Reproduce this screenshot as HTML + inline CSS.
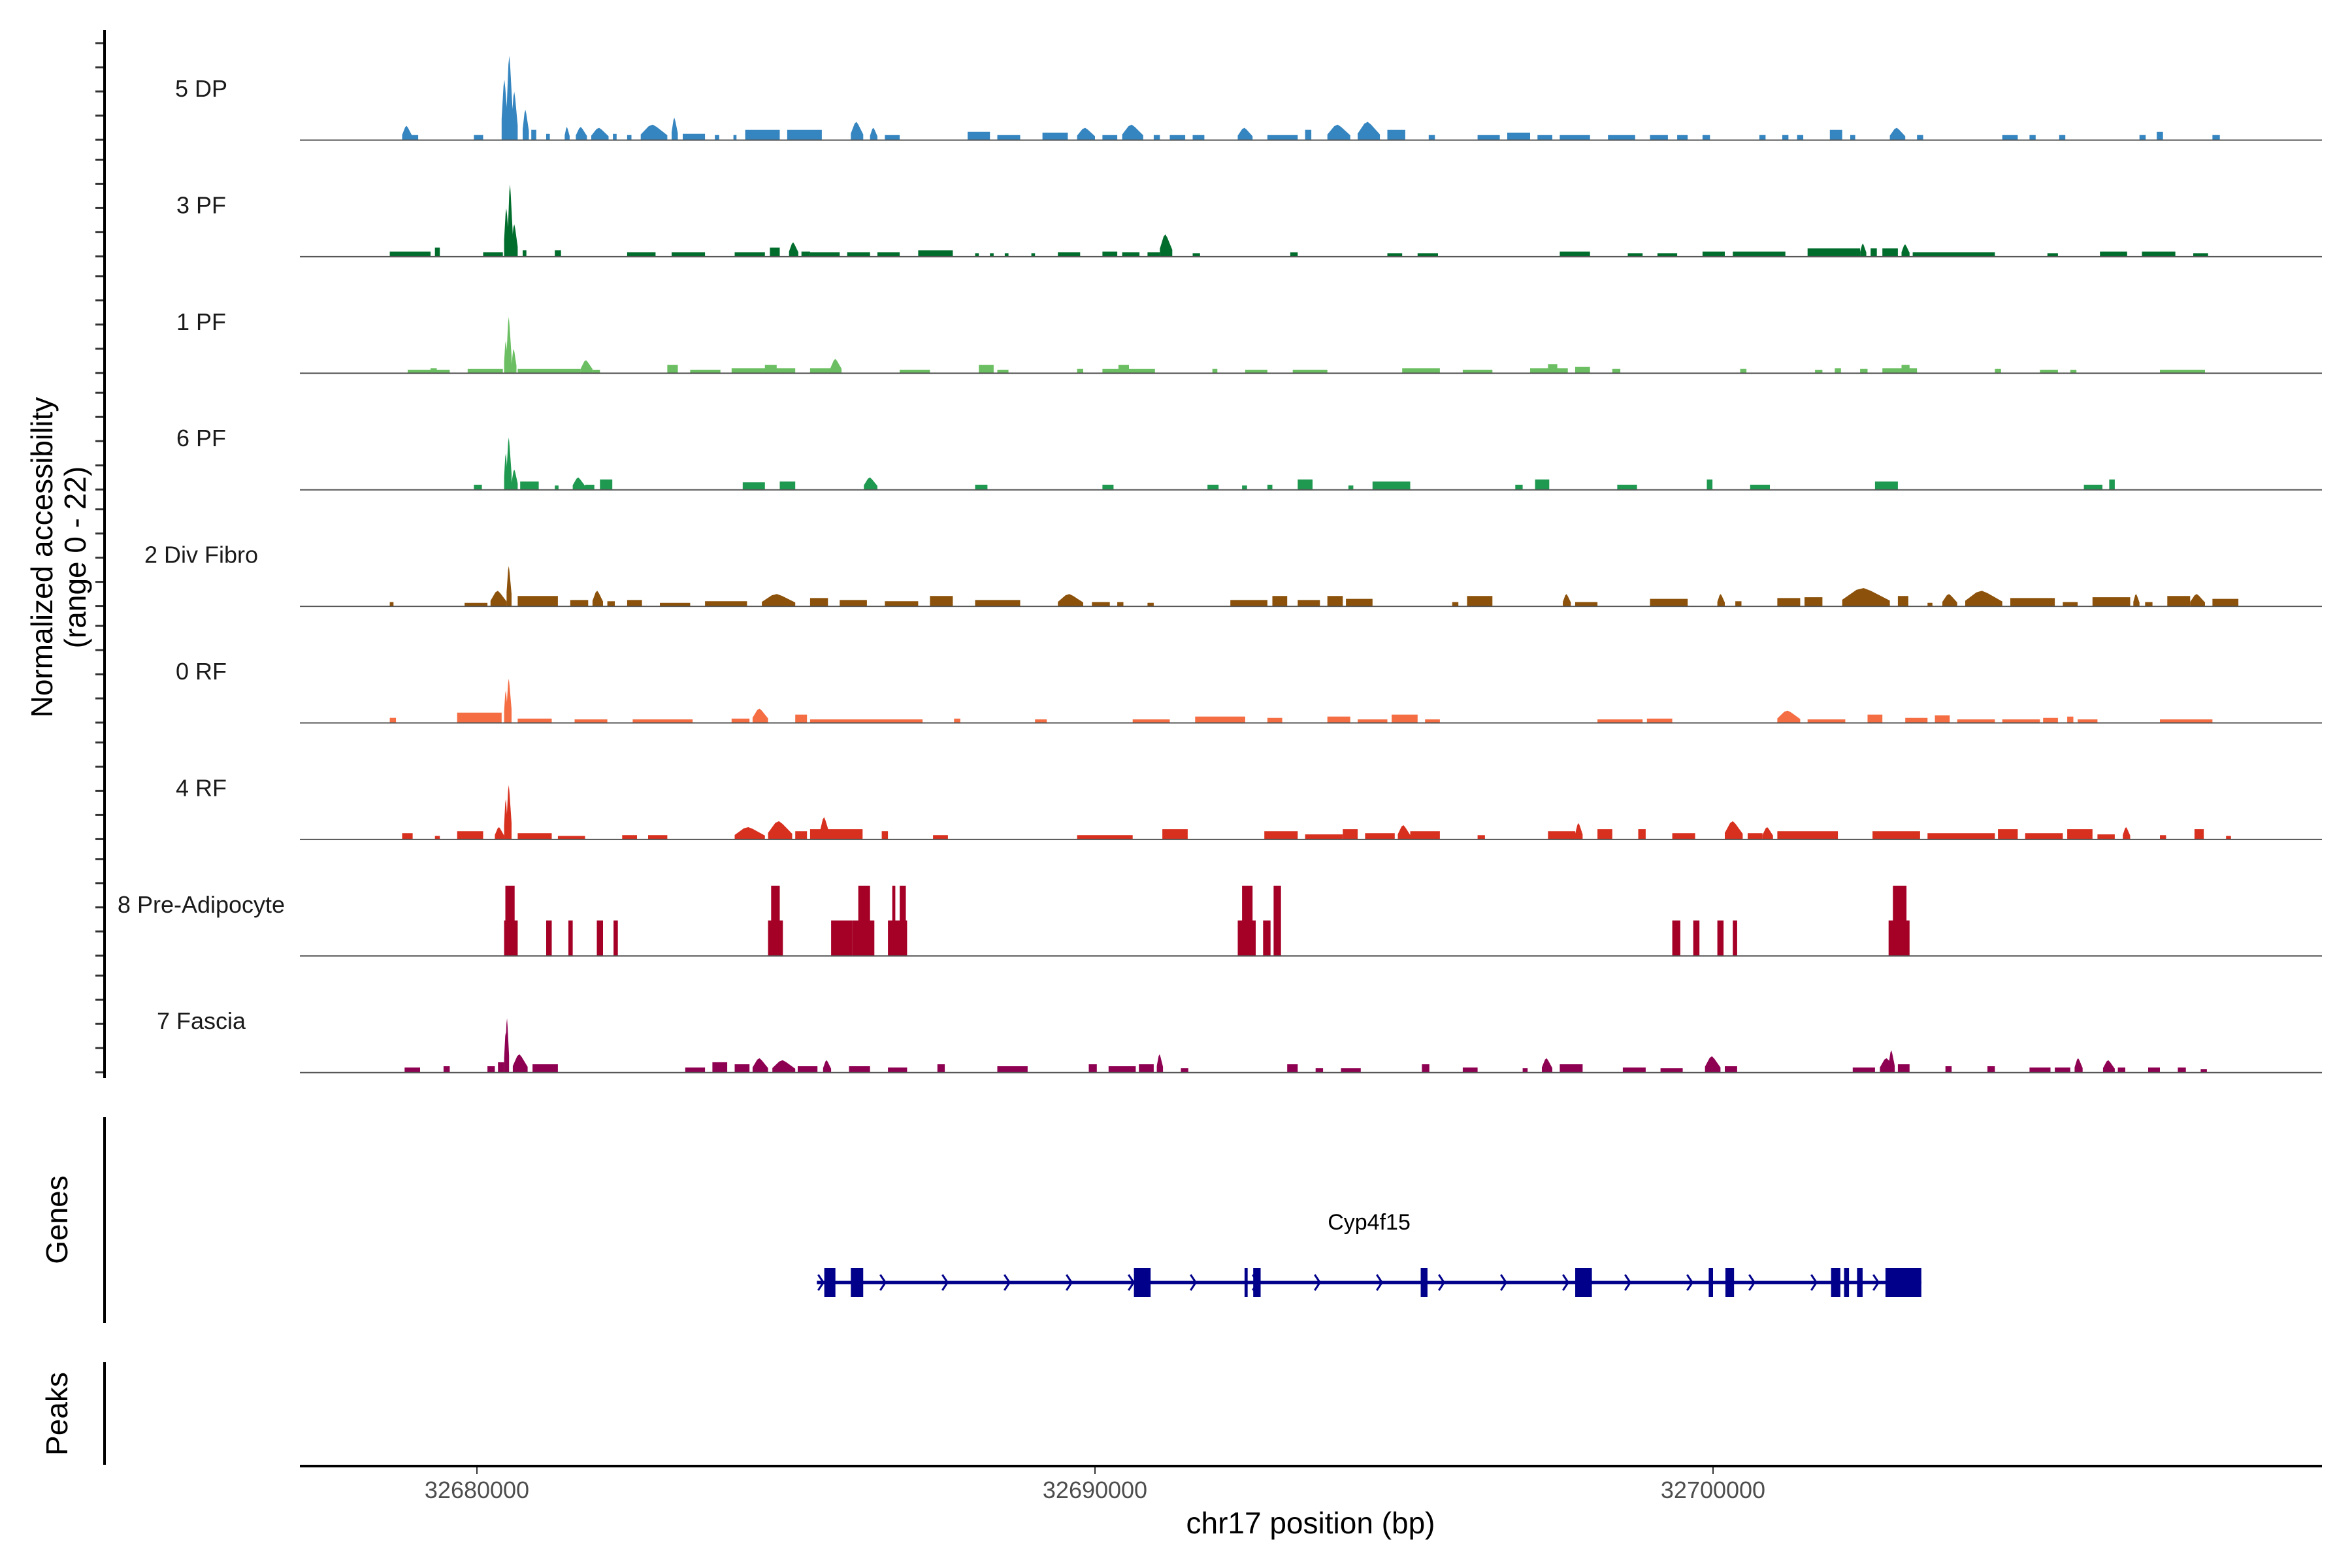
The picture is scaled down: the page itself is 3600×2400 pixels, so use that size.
<!DOCTYPE html>
<html><head><meta charset="utf-8">
<style>
html,body{margin:0;padding:0;background:#fff;}
svg{display:block;font-family:"Liberation Sans",Arial,sans-serif;}
</style></head>
<body>
<svg id="chart" width="3600" height="2400" viewBox="0 0 3600 2400" xmlns="http://www.w3.org/2000/svg">
<rect x="0" y="0" width="3600" height="2400" fill="#fff"/>
<g id="tracks"></g>
<g id="axes"></g>
<g id="genes"></g>
</svg>
<script>
// Positions in kb relative to chr17:32,680,000 ; values = normalized accessibility (0-22)
const trackNames = ["5 DP","3 PF","1 PF","6 PF","2 Div Fibro","0 RF","4 RF","8 Pre-Adipocyte","7 Fascia"];
const trackColors = ["#3585c0","#006d2c","#6bbf62","#1f9950","#8c510a","#f46d43","#d7301f","#a50026","#8e0152"];
const xTickValues = [32680000,32690000,32700000];
const xTickLabels = ["32680000","32690000","32700000"];
const yRange = [0,22];

const dp5 = [[-1.21,-1.05,3.5],[-1.12,-0.95,1.2],[-0.05,0.10,1.2],[0.40,0.50,15],[0.48,0.58,21],[0.56,0.66,12],[0.74,0.84,7.5],[0.88,0.96,2.5],[1.12,1.18,1.5],[1.42,1.50,3.2],[1.60,1.78,3.2],[1.85,2.13,3],[2.20,2.26,1.5],[2.43,2.50,1.2],[2.65,3.08,3.8],[3.15,3.25,5.5],[3.33,3.69,1.5],[3.85,3.92,1.2],[4.15,4.20,1.2],[4.34,4.90,2.5],[5.02,5.58,2.5],[6.05,6.25,4.5],[6.36,6.48,3],[6.60,6.84,1.2],[7.94,8.30,2],[8.42,8.79,1.2],[9.15,9.56,1.8],[9.71,10.0,3],[10.12,10.36,1.2],[10.44,10.78,3.8],[10.95,11.05,1.2],[11.21,11.46,1.2],[11.58,11.77,1.2],[12.31,12.55,3],[12.79,13.28,1.2],[13.40,13.50,2.5],[13.76,14.13,3.8],[14.25,14.61,4.5],[14.73,15.02,2.5],[15.40,15.50,1.2],[16.19,16.55,1.2],[16.67,17.04,1.8],[17.16,17.40,1.2],[17.52,18.01,1.2],[18.30,18.74,1.2],[18.98,19.27,1.2],[19.42,19.59,1.2],[19.83,19.95,1.2],[20.75,20.85,1.2],[21.12,21.22,1.2],[21.36,21.46,1.2],[21.89,22.09,2.5],[22.22,22.30,1.2],[22.86,23.11,3],[23.30,23.40,1.2],[24.68,24.93,1.2],[25.12,25.22,1.2],[25.60,25.70,1.2],[26.90,27.00,1.2],[27.18,27.28,2],[28.08,28.20,1.2]];
const pf3 = [[-1.41,-0.75,1.2],[-0.68,-0.60,2.2],[0.10,0.42,1],[0.44,0.52,12],[0.50,0.58,18],[0.56,0.66,8],[0.74,0.80,1.5],[1.26,1.36,1.5],[2.43,2.89,1],[3.15,3.69,1],[4.17,4.66,1],[4.74,4.90,2.2],[5.05,5.20,3.5],[5.25,5.39,1.2],[5.39,5.87,1],[5.99,6.36,1],[6.48,6.84,1],[7.14,7.70,1.5],[8.06,8.12,0.8],[8.30,8.36,0.8],[8.54,8.60,0.8],[8.97,9.03,0.8],[9.40,9.76,1],[10.12,10.36,1.2],[10.44,10.72,1],[10.85,11.05,1],[11.05,11.25,5.5],[11.58,11.70,0.8],[13.16,13.28,1],[14.73,14.97,0.8],[15.22,15.55,0.8],[17.52,18.01,1.2],[18.62,18.86,0.8],[19.10,19.42,0.8],[19.83,20.19,1.2],[20.32,21.17,1.2],[21.53,22.38,2],[22.38,22.48,3.2],[22.55,22.65,2],[22.74,22.99,2],[23.05,23.18,3],[23.23,24.56,1],[25.41,25.58,0.8],[26.26,26.70,1.2],[26.94,27.48,1.2],[27.77,28.01,0.8]];
const pf1 = [[-1.12,-0.44,0.8],[-0.75,-0.65,1.2],[-0.15,0.42,1],[0.44,0.50,8],[0.48,0.56,14],[0.56,0.64,6],[0.66,1.68,1],[1.68,1.87,3.2],[1.87,1.99,0.8],[3.08,3.25,2],[3.45,3.94,0.8],[4.12,5.15,1.2],[4.66,4.85,2],[5.39,5.87,1.2],[5.72,5.90,3.5],[6.84,7.33,0.8],[8.12,8.36,2],[8.42,8.60,0.8],[9.71,9.81,1],[10.12,10.97,1],[10.38,10.55,2],[11.90,11.98,1],[12.43,12.79,0.8],[13.20,13.76,0.8],[14.97,15.58,1.2],[15.95,16.43,0.8],[17.04,17.65,1.2],[17.33,17.48,2.2],[17.77,18.01,1.5],[18.37,18.50,1],[20.44,20.54,1],[21.65,21.77,0.8],[21.97,22.07,1.2],[22.38,22.50,1],[22.74,23.30,1.2],[23.05,23.18,2],[24.56,24.66,1],[25.29,25.58,0.8],[25.78,25.88,0.8],[27.23,27.96,0.8]];
const pf6 = [[-0.05,0.08,1.2],[0.44,0.50,9],[0.48,0.56,13],[0.56,0.66,5],[0.70,1.00,2],[1.26,1.32,1],[1.55,1.75,3],[1.75,1.90,1.2],[1.99,2.19,2.5],[4.30,4.66,1.8],[4.90,5.15,2],[6.26,6.48,3],[8.06,8.26,1.2],[10.12,10.30,1.2],[11.82,12.00,1.2],[12.38,12.46,1],[12.79,12.87,1.2],[13.28,13.52,2.5],[14.10,14.18,1],[14.49,15.10,2],[16.80,16.92,1.2],[17.12,17.35,2.5],[18.45,18.77,1.2],[19.90,19.99,2.5],[20.60,20.92,1.2],[22.62,22.99,2],[26.00,26.30,1.2],[26.41,26.50,2.5]];
const divFibro2 = [[-1.41,-1.35,1],[-0.20,0.17,0.8],[0.22,0.48,3.8],[0.48,0.56,10],[0.66,1.31,2.5],[1.51,1.80,1.5],[1.87,2.04,3.8],[2.11,2.23,1.2],[2.43,2.67,1.5],[2.96,3.45,0.8],[3.69,4.37,1.2],[4.61,5.15,3],[5.39,5.68,2],[5.87,6.31,1.5],[6.60,7.14,1.2],[7.33,7.70,2.5],[8.06,8.79,1.5],[9.40,9.81,3],[9.95,10.24,1],[10.36,10.46,1],[10.85,10.95,0.8],[12.19,12.79,1.5],[12.87,13.11,2.5],[13.28,13.64,1.5],[13.76,14.01,2.5],[14.06,14.49,1.8],[15.78,15.88,1],[16.02,16.43,2.5],[17.57,17.70,3],[17.77,18.13,1],[18.98,19.59,1.8],[20.07,20.19,3],[20.36,20.46,1.2],[21.04,21.41,2],[21.48,21.77,2.2],[22.09,22.86,4.5],[22.99,23.16,2.5],[23.47,23.55,0.8],[23.71,23.95,3],[24.08,24.68,3.8],[24.81,25.53,2],[25.66,25.90,1],[26.14,26.75,2.2],[26.80,26.90,3],[26.99,27.11,1],[27.35,27.72,2.5],[27.72,27.96,3],[28.08,28.50,1.8]];
const rf0 = [[-1.41,-1.31,1.2],[-0.32,0.40,2.5],[0.44,0.50,8],[0.48,0.56,11],[0.66,1.21,1],[1.58,2.11,0.8],[2.52,3.49,0.8],[4.12,4.41,1],[4.46,4.71,3.5],[5.15,5.34,2],[5.39,7.21,0.8],[7.72,7.82,1],[9.03,9.22,0.8],[10.61,11.21,0.8],[11.62,12.43,1.5],[12.79,13.03,1.2],[13.76,14.13,1.5],[14.25,14.73,0.8],[14.80,15.22,2],[15.34,15.58,0.8],[18.13,18.86,0.8],[18.93,19.34,1],[21.04,21.41,3],[21.53,22.14,0.8],[22.50,22.74,2],[23.11,23.47,1.2],[23.59,23.83,1.8],[23.95,24.56,0.8],[24.68,25.29,0.8],[25.34,25.58,1.2],[25.73,25.83,1.5],[25.90,26.22,0.8],[27.23,28.08,0.8]];
const rf4 = [[-1.21,-1.04,1.5],[-0.68,-0.60,0.8],[-0.32,0.10,2],[0.29,0.44,3],[0.44,0.50,10],[0.48,0.56,13.5],[0.66,1.21,1.5],[1.31,1.75,0.8],[2.35,2.59,1],[2.77,3.08,1],[4.17,4.66,3],[4.71,5.10,4.5],[5.15,5.34,2],[5.39,5.63,2.5],[5.55,5.70,5.5],[5.63,6.24,2.5],[6.55,6.65,2],[7.38,7.62,1],[9.71,10.61,1],[11.09,11.50,2.5],[12.74,13.28,2],[13.40,14.01,1.2],[14.01,14.25,2.5],[14.37,14.85,1.5],[14.90,15.10,3.5],[15.10,15.58,2],[16.19,16.31,1],[17.33,17.77,2],[17.77,17.89,4],[18.13,18.37,2.5],[18.79,18.91,2.5],[19.34,19.71,1.5],[20.19,20.48,4.5],[20.56,20.80,1.5],[20.80,20.97,3],[21.04,22.02,2],[22.58,23.35,2],[23.47,24.56,1.5],[24.61,24.93,2.5],[25.05,25.66,1.5],[25.73,26.14,2.5],[26.22,26.50,1.2],[26.63,26.75,3],[27.23,27.33,1],[27.79,27.94,2.5],[28.30,28.38,0.8]];
const preAdipocyte8 = [[0.44,0.66,8.8],[0.46,0.61,17.5],[1.12,1.21,8.8],[1.48,1.55,8.8],[1.94,2.04,8.8],[2.21,2.28,8.8],[4.71,4.95,8.8],[4.76,4.90,17.5],[5.73,6.07,8.8],[6.07,6.43,8.8],[6.17,6.36,17.5],[6.65,6.96,8.8],[6.72,6.77,17.5],[6.84,6.94,17.5],[12.31,12.60,8.8],[12.38,12.55,17.5],[12.72,12.84,8.8],[12.89,13.01,17.5],[19.34,19.47,8.8],[19.68,19.78,8.8],[20.07,20.17,8.8],[20.32,20.39,8.8],[22.84,23.18,8.8],[22.91,23.13,17.5]];
const fascia7 = [[-1.17,-0.92,1.2],[-0.54,-0.44,1.5],[0.17,0.29,1.5],[0.34,0.44,2.5],[0.44,0.50,10],[0.46,0.52,13.5],[0.58,0.82,4.5],[0.90,1.31,2],[3.37,3.69,1.2],[3.81,4.05,2.5],[4.17,4.41,2],[4.46,4.71,3.5],[4.78,5.15,3],[5.19,5.51,1.5],[5.60,5.73,3],[6.02,6.36,1.5],[6.65,6.96,1.2],[7.45,7.57,2],[8.42,8.91,1.5],[9.90,10.03,2],[10.22,10.66,1.5],[10.71,10.95,2],[11.00,11.10,4.5],[11.39,11.51,1],[13.11,13.28,2],[13.57,13.69,1],[13.98,14.30,1],[15.29,15.41,2],[15.95,16.19,1.2],[16.92,17.00,1],[17.23,17.40,3.5],[17.52,17.89,2],[18.54,18.91,1.2],[19.15,19.51,1],[19.87,20.12,4],[20.19,20.39,1.5],[22.26,22.62,1.2],[22.70,22.94,3.5],[22.84,22.94,5.5],[22.99,23.18,2],[23.76,23.86,1.5],[24.44,24.56,1.5],[25.12,25.46,1.2],[25.53,25.78,1.2],[25.85,25.98,3.5],[26.31,26.50,3],[26.55,26.67,1.2],[27.04,27.23,1.2],[27.52,27.65,1.2],[27.89,27.99,0.8]];
const trackData = [dp5,pf3,pf1,pf6,divFibro2,rf0,rf4,preAdipocyte8,fascia7];

const geneName = "Cyp4f15";
const geneStartKb = 5.50;
const geneEndKb = 23.37;
const exonStarts = [5.62,6.05,10.63,12.42,12.56,15.27,17.77,19.93,20.20,21.91,22.12,22.33,22.79];
const exonEnds   = [5.80,6.25,10.90,12.47,12.68,15.38,18.04,20.00,20.34,22.06,22.20,22.42,23.37];

const NS = "http://www.w3.org/2000/svg";
const X0 = 459, X1 = 3554;
function xScale(kb){ return 730 + kb*94.6; }
function bpToKb(bp){ return (bp-32680000)/1000; }
const TRACK_TOP0 = 214, TRACK_STEP = 178.4, PX_PER_UNIT = 6.12;
function baseY(i){ return TRACK_TOP0 + i*TRACK_STEP; }
function yScale(i,v){ return baseY(i) - (v - yRange[0])*PX_PER_UNIT; }
function mk(tag, attrs, parent){ const e=document.createElementNS(NS,tag); for(const k in attrs) e.setAttribute(k,attrs[k]); parent.appendChild(e); return e; }

const tracksG = document.getElementById('tracks');
const axesG = document.getElementById('axes');
const genesG = document.getElementById('genes');

trackData.forEach((arr,i)=>{
  const g = mk('g',{},tracksG);
  
  
  const lab = mk('text',{x:308,y:baseY(i)-66,'text-anchor':'middle','font-size':36,fill:'#1a1a1a'},g);
  lab.textContent = trackNames[i];
  
  
  arr.forEach(d=>{
    const xs = xScale(d[0]), xe = xScale(d[1]), y0 = baseY(i), yt = yScale(i,d[2]);
    const w = xe - xs;
    let pts;
    if (i === 7 || d[2] < 3) {
      pts = [[xs,y0],[xs,yt],[xe,yt],[xe,y0]];
    } else {
      pts = [[xs,y0],[xs,y0-(y0-yt)*0.35],[xs+w*0.3,yt+(y0-yt)*0.1],[xs+w*0.45,yt],[xs+w*0.6,yt+(y0-yt)*0.15],[xe,y0-(y0-yt)*0.3],[xe,y0]];
    }
    const p = mk('polygon',{points:pts.map(q=>q[0].toFixed(1)+','+q[1].toFixed(1)).join(' '),fill:trackColors[i]},g);
    
    
  });
  const bl = mk('line',{x1:X0,x2:X1,y1:baseY(i)+0.5,y2:baseY(i)+0.5,stroke:'#555','stroke-width':2},g);
  
  
  for(let k=0;k<5;k++){
    const ty = baseY(i) - k*37;
    const t = mk('line',{x1:146,x2:160,y1:ty,y2:ty,stroke:'#333','stroke-width':3},axesG);
    
    
  }
});

// y axis lines
[[46,1650],[1710,2025],[2085,2242]].forEach((r,j)=>{
  const l = mk('line',{x1:160,x2:160,y1:r[0],y2:r[1],stroke:'#000','stroke-width':4},axesG);
  
  
});
function rotText(txt,x,y,name){
  const t = mk('text',{x:x,y:y,'text-anchor':'middle','font-size':46,fill:'#000',transform:'rotate(-90 '+x+' '+y+')'},axesG);
  t.textContent = txt;
  
  
}
rotText('Normalized accessibility',80,853,'y-axis-title');
rotText('(range 0 - 22)',131,853,'y-axis-subtitle');
rotText('Genes',103,1867,'genes-label');
rotText('Peaks',103,2164,'peaks-label');

// x axis
const xl = mk('line',{x1:X0,x2:X1,y1:2244,y2:2244,stroke:'#000','stroke-width':4},axesG);


xTickValues.forEach((v,j)=>{
  const x = xScale(bpToKb(v));
  const t = mk('line',{x1:x,x2:x,y1:2246,y2:2256,stroke:'#333','stroke-width':2},axesG);
  
  
  const lb = mk('text',{x:x,y:2293,'text-anchor':'middle','font-size':36,fill:'#4d4d4d'},axesG);
  lb.textContent = xTickLabels[j];
  
  
});
const xt = mk('text',{x:2006,y:2347,'text-anchor':'middle','font-size':46,fill:'#000'},axesG);
xt.textContent = 'chr17 position (bp)';



// gene model
const GY = 1963;
const gl = mk('text',{x:xScale((geneStartKb+geneEndKb)/2)+0,y:1882,'text-anchor':'middle','font-size':34,fill:'#000'},genesG);
gl.textContent = geneName;


const gline = mk('line',{x1:xScale(geneStartKb),x2:xScale(geneEndKb),y1:GY,y2:GY,stroke:'#00008b','stroke-width':5},genesG);


for(let x = xScale(geneStartKb)+6; x < xScale(geneEndKb)-20; x += 95){
  const c = mk('polyline',{points:(x-4)+','+(GY-12)+' '+(x+4)+','+GY+' '+(x-4)+','+(GY+12),fill:'none',stroke:'#00008b','stroke-width':3},genesG);
  
  
}
exonStarts.forEach((s,j)=>{
  const x = xScale(s), w = Math.max(4, xScale(exonEnds[j]) - x);
  const r = mk('rect',{x:x,y:GY-22,width:w,height:44,fill:'#00008b'},genesG);
  
  
});
</script>
</body></html>
